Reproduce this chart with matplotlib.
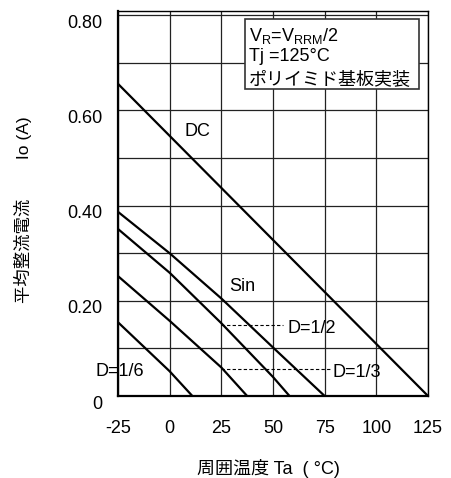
import matplotlib
matplotlib.use("Agg")
import matplotlib.pyplot as plt
import matplotlib.transforms as mtransforms
from matplotlib.patches import Rectangle

plt.rcParams["font.family"] = ["Liberation Sans", "Noto Sans CJK JP"]
plt.rcParams["mathtext.fontset"] = "custom"
plt.rcParams["mathtext.rm"] = "Liberation Sans"

# curve data (Ta in degC, Io in A)
dc_t = [-25, 125]
dc_io = [0.656, 0.0]
sin_t = [-25, 0, 25, 50, 75]
sin_io = [0.387, 0.300, 0.205, 0.102, 0.0]
d12_t = [-25, 0, 25, 50, 58]
d12_io = [0.351, 0.259, 0.153, 0.040, 0.0]
d13_t = [-25, 0, 25, 37.5]
d13_io = [0.252, 0.158, 0.060, 0.0]
d16_t = [-25, 0, 11]
d16_io = [0.155, 0.052, 0.0]

x_ticks = [-25, 0, 25, 50, 75, 100, 125]
y_ticks = [0, 0.1, 0.2, 0.3, 0.4, 0.5, 0.6, 0.7, 0.8]
y_labels = ["0", "", "0.20", "", "0.40", "", "0.60", "", "0.80"]

fig = plt.figure(figsize=(4.52, 4.78), dpi=100)
ax = fig.add_axes([0.261, 0.1715, 0.686, 0.8065])

for t, io in [(dc_t, dc_io), (sin_t, sin_io), (d12_t, d12_io),
              (d13_t, d13_io), (d16_t, d16_io)]:
    ax.plot(t, io, color="black", lw=1.6, solid_capstyle="butt", zorder=3)

ax.set_xlim(-25, 125)
ax.set_ylim(0, 0.81)
ax.set_xticks(x_ticks)
ax.set_xticklabels([str(v) for v in x_ticks])
ax.set_yticks(y_ticks)
ax.set_yticklabels(y_labels)
ax.grid(True, color="#222222", lw=0.9)
ax.set_axisbelow(True)
ax.tick_params(axis="x", length=0, pad=17, labelsize=13)
ax.tick_params(axis="y", length=0, pad=11, labelsize=13)
for lbl in ax.get_yticklabels():
    lbl.set_transform(lbl.get_transform() +
                      mtransforms.ScaledTranslation(0, -0.06, fig.dpi_scale_trans))
for s in ["left", "bottom"]:
    ax.spines[s].set_linewidth(1.6)
for s in ["top", "right"]:
    ax.spines[s].set_linewidth(1.0)

# curve labels and leaders
ax.text(13.5, 0.555, "DC", fontsize=13, ha="center", va="center")
ax.text(35.2, 0.231, "Sin", fontsize=13, ha="center", va="center")
ax.plot([25, 55], [0.149, 0.149], color="black", lw=0.8, ls=(0, (3, 2)))
ax.text(56.8, 0.141, "D=1/2", fontsize=13, ha="left", va="center")
ax.plot([25, 77.5], [0.056, 0.056], color="black", lw=0.8, ls=(0, (3, 2)))
ax.text(79, 0.050, "D=1/3", fontsize=13, ha="left", va="center")
ax.text(-36.1, 0.052, "D=1/6", fontsize=13, ha="left", va="center", clip_on=False)

# condition box
ax.add_patch(Rectangle((0.41, 0.796), 0.561, 0.182, transform=ax.transAxes,
                       facecolor="white", edgecolor="#333333", lw=1.2, zorder=4))
ax.text(0.423, 0.935, r"V$_\mathregular{R}$=V$_\mathregular{RRM}$/2", transform=ax.transAxes,
        fontsize=13, ha="left", va="center", zorder=5)
ax.text(0.423, 0.880, "Tj =125°C", transform=ax.transAxes,
        fontsize=13, ha="left", va="center", zorder=5)
ax.text(0.423, 0.822, "ポリイミド基板実装", transform=ax.transAxes,
        fontsize=13, ha="left", va="center", zorder=5)

fig.text(23 / 452, 1 - 210 / 478, "平均整流電流　　 Io (A)", rotation=90,
         fontsize=12.5, ha="center", va="center")
fig.text(268 / 452, 1 - 469 / 478, "周囲温度 Ta  ( °C)",
         fontsize=13, ha="center", va="center")

fig.savefig("out.png", dpi=100)
